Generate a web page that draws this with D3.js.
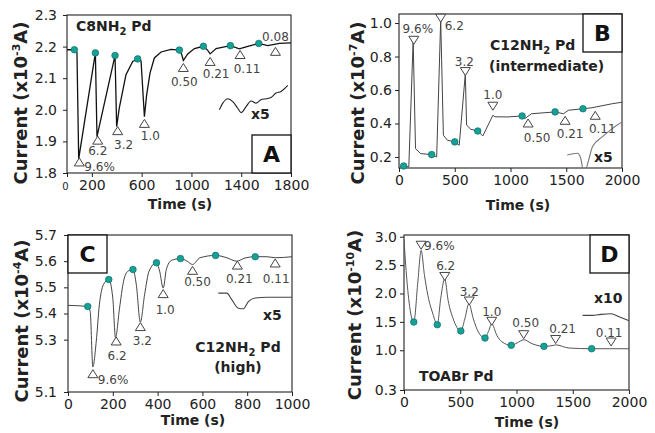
<!DOCTYPE html>
<html>
<head>
<meta charset="utf-8">
<script src="https://d3js.org/d3.v7.min.js"></script>
<style>
  body { margin: 0; background: #fff; }
  text { font-family: "DejaVu Sans", sans-serif; }
</style>
</head>
<body>
<svg id="fig" width="655" height="433"></svg>
<script>
// ---------- panel A : C8NH2 Pd ----------
const aTime    = [0, 59, 80, 94, 228, 241, 386, 399, 420, 474, 528, 568, 595, 622, 640, 667, 702, 756, 836, 903, 922, 935, 970, 1024, 1096, 1131, 1150, 1198, 1313, 1385, 1439, 1541, 1613, 1707, 1800];
const aCurrent = [2.19, 2.19, 2.182, 1.845, 2.18, 1.915, 2.172, 1.947, 2.005, 2.111, 2.153, 2.161, 2.155, 1.978, 2.047, 2.116, 2.164, 2.183, 2.191, 2.189, 2.175, 2.156, 2.177, 2.194, 2.201, 2.188, 2.177, 2.194, 2.203, 2.193, 2.199, 2.21, 2.203, 2.21, 2.212];
const aDotTime = [59, 228, 386, 568, 903, 1096, 1313, 1541];
const aDotCurrent = [2.19, 2.18, 2.172, 2.161, 2.189, 2.201, 2.203, 2.21];
const aMarkTime = [99, 247, 407, 622, 935, 1150, 1391, 1675];
const aMarkCurrent = [1.835, 1.904, 1.934, 1.957, 2.134, 2.153, 2.175, 2.185];
const aMarkLabels = ['9.6%', '6.2', '3.2', '1.0', '0.50', '0.21', '0.11', '0.08'];
const aZoomTime = [1225, 1252, 1292, 1332, 1372, 1399, 1439, 1479, 1519, 1559, 1600, 1640, 1680, 1720, 1774];
const aZoomCurrent = [2.0, 2.021, 2.035, 2.026, 2.005, 1.991, 2.01, 2.028, 2.021, 2.032, 2.035, 2.039, 2.053, 2.058, 2.077];
const aXTicks = [0, 200, 600, 1000, 1400, 1800];
const aYTicks = [1.8, 1.9, 2.0, 2.1, 2.2, 2.3];

// ---------- panel B : C12NH2 Pd (intermediate) ----------
const bTime    = [42, 88, 127, 148, 194, 293, 338, 374, 398, 434, 500, 540, 595, 606, 645, 706, 751, 842, 860, 977, 1104, 1128, 1188, 1400, 1475, 1520, 1650, 1731, 1912, 2000];
const bCurrent = [0.146, 0.14, 0.897, 0.25, 0.22, 0.214, 0.2, 1.02, 0.33, 0.30, 0.29, 0.27, 0.697, 0.39, 0.365, 0.355, 0.325, 0.449, 0.44, 0.439, 0.445, 0.429, 0.458, 0.469, 0.458, 0.479, 0.488, 0.494, 0.518, 0.527];
const bDotTime = [42, 293, 500, 706, 1104, 1400, 1650];
const bDotCurrent = [0.146, 0.214, 0.29, 0.355, 0.445, 0.469, 0.488];
const bMarkTime = [133, 374, 595, 842, 1158, 1490, 1760];
const bMarkCurrent = [0.897, 1.029, 0.71, 0.503, 0.403, 0.419, 0.449];
const bMarkLabels = ['9.6%', '6.2', '3.2', '1.0', '0.50', '0.21', '0.11'];
const bZoomTime = [1509, 1599, 1629, 1659, 1700, 1735, 1825, 1916, 2000];
const bZoomCurrent = [0.212, 0.222, 0.194, 0.10, 0.18, 0.261, 0.321, 0.371, 0.409];
const bXTicks = [0, 500, 1000, 1500, 2000];
const bYTicks = [0.2, 0.4, 0.6, 0.8, 1.0];

// ---------- panel C : C12NH2 Pd (high) ----------
const cTime    = [0, 88, 99, 111, 126, 140, 158, 182, 200, 212, 230, 248, 268, 290, 305, 323, 342, 362, 395, 409, 425, 439, 462, 502, 532, 556, 589, 659, 709, 753, 790, 836, 888, 925, 1000];
const cCurrent = [5.431, 5.427, 5.408, 5.196, 5.292, 5.433, 5.51, 5.53, 5.459, 5.308, 5.42, 5.523, 5.562, 5.568, 5.51, 5.367, 5.472, 5.562, 5.594, 5.562, 5.497, 5.568, 5.603, 5.61, 5.6, 5.587, 5.613, 5.622, 5.613, 5.6, 5.612, 5.617, 5.617, 5.613, 5.617];
const cDotTime = [88, 182, 290, 395, 502, 659, 836];
const cDotCurrent = [5.427, 5.53, 5.568, 5.594, 5.61, 5.622, 5.617];
const cMarkTime = [111, 215, 323, 425, 556, 756, 925];
const cMarkCurrent = [5.17, 5.295, 5.35, 5.476, 5.565, 5.585, 5.593];
const cMarkLabels = ['9.6%', '6.2', '3.2', '1.0', '0.50', '0.21', '0.11'];
const cZoomTime = [671, 709, 731, 761, 783, 806, 836, 888, 1000];
const cZoomCurrent = [5.478, 5.478, 5.453, 5.42, 5.418, 5.446, 5.459, 5.462, 5.462];
const cXTicks = [0, 200, 400, 600, 800, 1000];
const cYTicks = [5.1, 5.3, 5.4, 5.5, 5.6, 5.7];

// ---------- panel D : TOABr Pd ----------
const dTime    = [0, 15, 45, 87, 123, 152, 182, 212, 257, 296, 326, 362, 392, 437, 505, 541, 577, 616, 661, 720, 751, 780, 825, 870, 953, 1004, 1064, 1139, 1244, 1333, 1348, 1468, 1668, 1827, 2000];
const dCurrent = [2.95, 2.5, 1.85, 1.497, 2.2, 2.76, 2.32, 1.97, 1.64, 1.45, 1.907, 2.26, 1.88, 1.555, 1.34, 1.555, 1.82, 1.555, 1.32, 1.215, 1.333, 1.467, 1.263, 1.15, 1.087, 1.127, 1.186, 1.115, 1.069, 1.087, 1.095, 1.039, 1.027, 1.027, 1.027];
const dDotTime = [87, 296, 505, 720, 953, 1244, 1668];
const dDotCurrent = [1.497, 1.45, 1.34, 1.215, 1.087, 1.069, 1.027];
const dMarkTime = [152, 362, 580, 780, 1064, 1348, 1841];
const dMarkCurrent = [2.85, 2.30, 1.867, 1.51, 1.274, 1.19, 1.145];
const dMarkLabels = ['9.6%', '6.2', '3.2', '1.0', '0.50', '0.21', '0.11'];
const dZoomTime = [1587, 1677, 1751, 1841, 1917, 2000];
const dZoomCurrent = [1.615, 1.615, 1.632, 1.643, 1.585, 1.52];
const dXTicks = [0, 500, 1000, 1500, 2000];
const dYTicks = [0.3, 1.0, 1.5, 2.0, 2.5, 3.0];

const svg = d3.select('#fig');
const zip = (t, v) => t.map((d, i) => [d, v[i]]);

const panels = [
  { id: 'A', exp: '-3', xDom: [0, 1800], yDom: [1.8, 2.3], box: [67, 291, 15, 173],
    line: zip(aTime, aCurrent), dots: zip(aDotTime, aDotCurrent), marks: zip(aMarkTime, aMarkCurrent),
    labels: aMarkLabels, zoom: zip(aZoomTime, aZoomCurrent), xTicks: aXTicks, yTicks: aYTicks,
    up: [1, 1, 1, 1, 1, 1, 1, 1],
    lab: [[5, 9, 'start'], [0, 15], [6, 18], [6, 17], [1, 19], [6, 17], [7, 18], [0, -10]],
    lineColor: '#111', lineW: 1.3, zoomColor: '#222',
    yPad: 6, yTitle: [21, 103], xTitle: [180, 209],
    title: [{ t: 'C8NH', sub: '2', after: ' Pd', x: 76, y: 31 }],
    zoomLabel: ['x5', 251, 119], letter: [252, 135] },
  { id: 'B', exp: '-7', xDom: [0, 2000], yDom: [0.134, 1.054], box: [399, 622, 14, 168],
    line: zip(bTime, bCurrent), dots: zip(bDotTime, bDotCurrent), marks: zip(bMarkTime, bMarkCurrent),
    labels: bMarkLabels, zoom: zip(bZoomTime, bZoomCurrent), xTicks: bXTicks, yTicks: bYTicks,
    up: [0, 0, 0, 0, 1, 1, 1],
    lab: [[4, -7], [4, 12, 'start'], [-1, -6], [0, -7], [9, 19], [5, 18], [7, 18]],
    lineColor: '#444', lineW: 1, zoomColor: '#777',
    yPad: 3, yTitle: [358, 103], xTitle: [518, 210],
    title: [{ t: 'C12NH', sub: '2', after: ' Pd', x: 490, y: 50 }, { t: '(intermediate)', x: 489, y: 71 }],
    zoomLabel: ['x5', 594, 162], letter: [583, 14] },
  { id: 'C', exp: '-4', xDom: [0, 1000], yDom: [5.1, 5.7], box: [68, 292, 235, 392],
    line: zip(cTime, cCurrent), dots: zip(cDotTime, cDotCurrent), marks: zip(cMarkTime, cMarkCurrent),
    labels: cMarkLabels, zoom: zip(cZoomTime, cZoomCurrent), xTicks: cXTicks, yTicks: cYTicks,
    up: [1, 1, 1, 1, 1, 1, 1],
    lab: [[5, 10, 'start'], [1, 19], [2, 18], [2, 20], [5, 16], [2, 18], [1, 20]],
    lineColor: '#444', lineW: 1, zoomColor: '#444', curved: true,
    yPad: 7, yTitle: [22, 321], xTitle: [193, 425],
    title: [{ t: 'C12NH', sub: '2', after: ' Pd', x: 238, y: 352, mid: true }, { t: '(high)', x: 238, y: 372, mid: true }],
    zoomLabel: ['x5', 263, 320], letter: [68, 235] },
  { id: 'D', exp: '-10', xDom: [0, 2000], yDom: [0.3, 3.03], box: [404, 629, 235, 390],
    line: zip(dTime, dCurrent), dots: zip(dDotTime, dDotCurrent), marks: zip(dMarkTime, dMarkCurrent),
    labels: dMarkLabels, zoom: zip(dZoomTime, dZoomCurrent), xTicks: dXTicks, yTicks: dYTicks,
    up: [0, 0, 0, 0, 0, 0, 0],
    lab: [[3, 5, 'start'], [1, -6], [0, -5], [0, -5], [2, -8], [7, -6], [-2, -5]],
    lineColor: '#555', lineW: 1, zoomColor: '#444', curved: true,
    yPad: 3, yTitle: [355, 315], xTitle: [527, 427],
    title: [{ t: 'TOABr Pd', x: 419, y: 381 }],
    zoomLabel: ['x10', 594, 303], letter: [590, 235] }
];

panels.forEach(p => {
  const [L, R, T, B] = p.box;
  const x = d3.scaleLinear().domain(p.xDom).range([L, R]);
  const y = d3.scaleLinear().domain(p.yDom).range([B, T]);
  const g = svg.append('g');

  svg.append('clipPath').attr('id', 'clip' + p.id)
    .append('rect').attr('x', L).attr('y', T).attr('width', R - L).attr('height', B - T);

  // axes
  const xa = g.append('g').attr('transform', `translate(0,${B})`)
    .call(d3.axisBottom(x).tickValues(p.xTicks).tickSize(4).tickPadding(3).tickFormat(d3.format('d')));
  const ya = g.append('g').attr('transform', `translate(${L},0)`)
    .call(d3.axisLeft(y).tickValues(p.yTicks).tickSize(4).tickPadding(p.yPad).tickFormat(d3.format('.1f')));
  [xa, ya].forEach(a => {
    a.select('.domain').remove();
    a.selectAll('line').attr('stroke', '#222');
    a.selectAll('text').attr('font-size', 14).attr('fill', '#222')
      .style('font-family', '"DejaVu Sans", sans-serif');
  });
  if (p.id === 'A') xa.selectAll('text').filter(d => d === 0).attr('font-size', 10).attr('dx', -2).attr('dy', '1em');

  // frame
  g.append('rect').attr('x', L).attr('y', T).attr('width', R - L).attr('height', B - T)
    .attr('fill', 'none').attr('stroke', '#222').attr('stroke-width', 1.1);

  const plot = g.append('g').attr('clip-path', `url(#clip${p.id})`);
  const curve = p.curved ? d3.curveMonotoneX : d3.curveLinear;
  const lineGen = d3.line().x(d => x(d[0])).y(d => y(d[1])).curve(curve);

  plot.append('path').datum(p.zoom).attr('d', d3.line().x(d => x(d[0])).y(d => y(d[1])).curve(d3.curveMonotoneX))
    .attr('fill', 'none').attr('stroke', p.zoomColor).attr('stroke-width', 1.1);
  plot.append('path').datum(p.line).attr('d', lineGen)
    .attr('fill', 'none').attr('stroke', p.lineColor).attr('stroke-width', p.lineW);

  g.selectAll('circle.dot').data(p.dots).join('circle').attr('class', 'dot')
    .attr('cx', d => x(d[0])).attr('cy', d => y(d[1])).attr('r', 3.3)
    .attr('fill', '#17a095').attr('stroke', '#0d6f68').attr('stroke-width', 0.7);

  // injection triangles
  g.selectAll('path.mark').data(p.marks).join('path').attr('class', 'mark')
    .attr('d', (d, i) => {
      const cx = x(d[0]), cy = y(d[1]);
      return p.up[i]
        ? `M${cx - 5},${cy + 4}L${cx + 5},${cy + 4}L${cx},${cy - 4}Z`
        : `M${cx - 5},${cy - 4}L${cx + 5},${cy - 4}L${cx},${cy + 4}Z`;
    })
    .attr('fill', '#fff').attr('stroke', '#444').attr('stroke-width', 1);

  g.selectAll('text.mlab').data(p.marks).join('text').attr('class', 'mlab')
    .attr('x', (d, i) => x(d[0]) + p.lab[i][0])
    .attr('y', (d, i) => y(d[1]) + p.lab[i][1])
    .attr('text-anchor', (d, i) => p.lab[i][2] || 'middle')
    .attr('font-size', 12).attr('fill', '#444')
    .text((d, i) => p.labels[i]);

  // letter box
  const [bx, by] = p.letter;
  g.append('rect').attr('x', bx).attr('y', by).attr('width', 39).attr('height', 38)
    .attr('fill', '#fff').attr('stroke', '#111').attr('stroke-width', 1.3);
  g.append('text').attr('x', bx + 19.5).attr('y', by + 27).attr('text-anchor', 'middle')
    .attr('font-size', 22).attr('font-weight', 'bold').attr('fill', '#111').text(p.id);

  // titles
  p.title.forEach(t => {
    const tx = g.append('text').attr('x', t.x).attr('y', t.y)
      .attr('font-size', 14).attr('font-weight', 'bold').attr('fill', '#222')
      .attr('text-anchor', t.mid ? 'middle' : 'start');
    tx.append('tspan').text(t.t);
    if (t.sub) {
      tx.append('tspan').attr('dy', 4).attr('font-size', 10).text(t.sub);
      tx.append('tspan').attr('dy', -4).text(t.after);
    }
  });
  g.append('text').attr('x', p.zoomLabel[1]).attr('y', p.zoomLabel[2])
    .attr('font-size', 14).attr('font-weight', 'bold').attr('fill', '#222').text(p.zoomLabel[0]);

  // axis titles
  g.append('text').attr('x', p.xTitle[0]).attr('y', p.xTitle[1]).attr('text-anchor', 'middle')
    .attr('font-size', 14).attr('font-weight', 'bold').attr('fill', '#222').text('Time (s)');
  const yt = g.append('text')
    .attr('transform', `translate(${p.yTitle[0]},${p.yTitle[1]}) rotate(-90)`)
    .attr('text-anchor', 'middle').attr('dy', '0.36em')
    .attr('font-size', 18).attr('font-weight', 'bold').attr('fill', '#222');
  yt.append('tspan').text('Current (x10');
  yt.append('tspan').attr('dy', -7).attr('font-size', 11).text(p.exp);
  yt.append('tspan').attr('dy', 7).text('A)');
});
</script>
</body>
</html>
